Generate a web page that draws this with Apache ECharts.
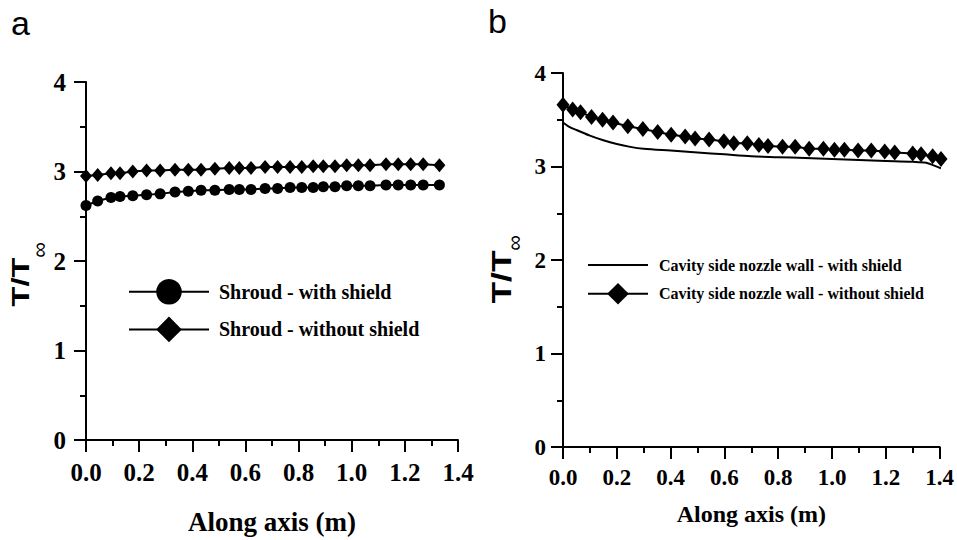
<!DOCTYPE html>
<html>
<head>
<meta charset="utf-8">
<script src="https://cdn.jsdelivr.net/npm/echarts@6/dist/echarts.min.js"></script>
<style>html,body{margin:0;padding:0;background:#fff}#c{width:957px;height:540px}</style>
</head>
<body>
<div id="c"></div>
<script>
// ---- Panel a data ----
const aX = [0, 0.044, 0.094, 0.128, 0.176, 0.228, 0.279, 0.335, 0.385, 0.433, 0.485, 0.539, 0.577, 0.621, 0.674, 0.721, 0.768, 0.812, 0.855, 0.893, 0.937, 0.981, 1.025, 1.069, 1.129, 1.175, 1.222, 1.269, 1.33];
const aWithShield = [2.62, 2.67, 2.71, 2.72, 2.73, 2.74, 2.75, 2.77, 2.78, 2.79, 2.79, 2.80, 2.80, 2.80, 2.81, 2.81, 2.82, 2.82, 2.82, 2.83, 2.83, 2.84, 2.84, 2.84, 2.85, 2.85, 2.85, 2.85, 2.85];
const aWithoutShield = [2.95, 2.96, 2.98, 2.98, 3.00, 3.01, 3.01, 3.02, 3.02, 3.02, 3.03, 3.04, 3.04, 3.04, 3.05, 3.05, 3.05, 3.05, 3.06, 3.06, 3.06, 3.07, 3.07, 3.07, 3.08, 3.08, 3.08, 3.08, 3.07];
// ---- Panel b data ----
const bLineX = [0, 0.02, 0.05, 0.1, 0.15, 0.2, 0.25, 0.3, 0.4, 0.5, 0.6, 0.7, 0.8, 0.9, 1.0, 1.1, 1.2, 1.3, 1.35, 1.38, 1.405];
const bWithShield = [3.47, 3.43, 3.39, 3.33, 3.28, 3.24, 3.21, 3.19, 3.17, 3.15, 3.13, 3.11, 3.10, 3.09, 3.08, 3.07, 3.06, 3.05, 3.04, 3.01, 2.98];
const bDiaX = [0.0, 0.036, 0.065, 0.106, 0.147, 0.186, 0.241, 0.297, 0.352, 0.402, 0.454, 0.491, 0.543, 0.598, 0.635, 0.685, 0.728, 0.762, 0.816, 0.863, 0.915, 0.968, 1.009, 1.046, 1.097, 1.146, 1.196, 1.233, 1.30, 1.331, 1.374, 1.405];
const bWithoutShield = [3.66, 3.61, 3.58, 3.53, 3.50, 3.47, 3.43, 3.40, 3.37, 3.34, 3.32, 3.30, 3.29, 3.27, 3.25, 3.25, 3.23, 3.22, 3.21, 3.21, 3.19, 3.19, 3.18, 3.18, 3.17, 3.17, 3.16, 3.15, 3.14, 3.13, 3.11, 3.08];
// ---- Labels ----
const names = {
  aWith: 'Shroud - with shield',
  aWithout: 'Shroud - without shield',
  bWith: 'Cavity side nozzle wall - with shield',
  bWithout: 'Cavity side nozzle wall - without shield'
};
const xTitle = 'Along axis (m)';

const zip = (xs, ys) => xs.map((x, i) => [x, ys[i]]);
const serif = '"Liberation Serif", "Times New Roman", serif';
const sans = '"Liberation Sans", Arial, sans-serif';

function xAxisCfg(gridIndex, fs, titleFs, nameGap, margin) {
  return {
    type: 'value', gridIndex, min: 0, max: 1.4, interval: 0.2,
    name: xTitle, nameLocation: 'middle', nameGap,
    nameTextStyle: { fontFamily: serif, fontWeight: 'bold', fontSize: titleFs, color: '#000', verticalAlign: 'top' },
    axisLine: { show: true, onZero: false, lineStyle: { color: '#000', width: 2 } },
    axisTick: { show: true, length: 12, lineStyle: { color: '#000', width: 2 } },
    minorTick: { show: true, splitNumber: 2, length: 6, lineStyle: { color: '#000', width: 2 } },
    splitLine: { show: false },
    axisLabel: { margin, formatter: v => v.toFixed(1), fontFamily: serif, fontWeight: 'bold', fontSize: fs, color: '#000' }
  };
}
function yAxisCfg(gridIndex, fs, margin) {
  return {
    type: 'value', gridIndex, min: 0, max: 4, interval: 1,
    axisLine: { show: true, onZero: false, lineStyle: { color: '#000', width: 2 } },
    axisTick: { show: true, length: 12, lineStyle: { color: '#000', width: 2 } },
    minorTick: { show: true, splitNumber: 2, length: 6, lineStyle: { color: '#000', width: 2 } },
    splitLine: { show: false },
    axisLabel: { margin, fontFamily: serif, fontWeight: 'bold', fontSize: fs, color: '#000' }
  };
}

const chart = echarts.init(document.getElementById('c'), null, { renderer: 'svg' });
chart.setOption({
  backgroundColor: '#fff',
  animation: false,
  grid: [
    { left: 86, top: 82, width: 372, height: 365 },
    { left: 563, top: 73, width: 379, height: 374 }
  ],
  xAxis: [xAxisCfg(0, 25, 27, 68, 20), xAxisCfg(1, 23, 24, 55, 19)],
  yAxis: [yAxisCfg(0, 25, 20), yAxisCfg(1, 23, 17)],
  legend: [
    {
      left: 123, top: 274, orient: 'vertical', itemWidth: 80, itemHeight: 32, itemGap: 12,
      data: [names.aWith, names.aWithout],
      textStyle: { fontFamily: serif, fontWeight: 'bold', fontSize: 20, color: '#000', padding: [0, 0, 0, 5] }
    },
    {
      left: 582, top: 252, orient: 'vertical', itemWidth: 60, itemHeight: 27, itemGap: 10,
      data: [{ name: names.bWith, icon: 'path://M0,0L60,0L60,2L0,2Z' }, names.bWithout],
      textStyle: { fontFamily: serif, fontWeight: 'bold', fontSize: 16, color: '#000', padding: [0, 0, 0, 6] }
    }
  ],
  series: [
    {
      name: names.aWith, type: 'line', xAxisIndex: 0, yAxisIndex: 0, data: zip(aX, aWithShield),
      symbol: 'circle', symbolSize: 11, color: '#000', lineStyle: { color: '#000', width: 2 }, itemStyle: { color: '#000' }, clip: false
    },
    {
      name: names.aWithout, type: 'line', xAxisIndex: 0, yAxisIndex: 0, data: zip(aX, aWithoutShield),
      symbol: 'diamond', symbolSize: [12, 14], color: '#000', lineStyle: { color: '#000', width: 2 }, itemStyle: { color: '#000' }, clip: false
    },
    {
      name: names.bWith, type: 'line', xAxisIndex: 1, yAxisIndex: 1, data: zip(bLineX, bWithShield),
      symbol: 'none', smooth: 0.3, color: '#000', lineStyle: { color: '#000', width: 2 }, itemStyle: { color: '#000' }, clip: false
    },
    {
      name: names.bWithout, type: 'line', xAxisIndex: 1, yAxisIndex: 1, data: zip(bDiaX, bWithoutShield),
      symbol: 'diamond', symbolSize: [13, 16], color: '#000', lineStyle: { color: '#000', width: 2 }, itemStyle: { color: '#000' }, clip: false
    }
  ],
  graphic: [
    { type: 'text', left: 11, top: 6, style: { text: 'a', font: '34px ' + sans, fill: '#000' } },
    { type: 'text', left: 488, top: 4, style: { text: 'b', font: '34px ' + sans, fill: '#000' } },
    { type: 'text', x: 21, y: 282, rotation: Math.PI / 2, scaleX: 1.36, style: { text: 'T/T', font: 'bold 24px ' + sans, fill: '#000', align: 'center', verticalAlign: 'middle' } },
    { type: 'text', x: 39, y: 250, rotation: Math.PI / 2, style: { text: '∞', font: '22px ' + sans, fill: '#000', align: 'center', verticalAlign: 'middle' } },
    { type: 'text', x: 501, y: 277, rotation: Math.PI / 2, scaleX: 1.26, style: { text: 'T/T', font: 'bold 28px ' + sans, fill: '#000', align: 'center', verticalAlign: 'middle' } },
    { type: 'text', x: 514, y: 243, rotation: Math.PI / 2, style: { text: '∞', font: '22px ' + sans, fill: '#000', align: 'center', verticalAlign: 'middle' } }
  ]
});
</script>
</body>
</html>
